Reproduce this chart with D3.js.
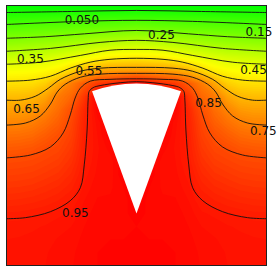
<!DOCTYPE html>
<html>
<head>
<meta charset="utf-8">
<script src="https://cdn.jsdelivr.net/npm/d3@7"></script>
<style>
body { margin: 0; background: #fff; }
svg { display: block; }
text { font-family: "DejaVu Sans", sans-serif; font-size: 12px; fill: #111; }
</style>
</head>
<body>
<script>
// contour levels
var levels = [0.05, 0.15, 0.25, 0.35, 0.45, 0.55, 0.65, 0.75, 0.85, 0.95];

// field sampled on a 21x21 grid over the unit square, row 0 = top edge
var field = [
  [0,0,0,0,0,0,0,0,0,0,0,0,0,0,0,0,0,0,0,0,0],
  [0.100,0.103,0.107,0.110,0.114,0.117,0.121,0.123,0.125,0.126,0.130,0.126,0.125,0.123,0.121,0.117,0.114,0.110,0.107,0.103,0.100],
  [0.200,0.204,0.209,0.214,0.219,0.224,0.230,0.237,0.243,0.251,0.260,0.251,0.243,0.237,0.230,0.224,0.219,0.214,0.209,0.204,0.200],
  [0.296,0.302,0.309,0.316,0.325,0.337,0.351,0.366,0.380,0.388,0.394,0.388,0.380,0.366,0.351,0.337,0.325,0.316,0.309,0.302,0.296],
  [0.396,0.403,0.409,0.418,0.434,0.454,0.478,0.505,0.528,0.534,0.539,0.534,0.528,0.505,0.478,0.454,0.434,0.418,0.409,0.403,0.396],
  [0.485,0.489,0.494,0.506,0.530,0.583,0.644,0.675,0.688,0.695,0.700,0.695,0.688,0.675,0.644,0.583,0.530,0.506,0.494,0.489,0.485],
  [0.561,0.562,0.568,0.596,0.674,0.756,0.825,0.890,0.917,0.960,0.990,0.960,0.917,0.890,0.825,0.756,0.674,0.596,0.568,0.562,0.561],
  [0.629,0.630,0.639,0.679,0.761,0.800,0.895,1,1,1,1,1,1,1,0.895,0.800,0.761,0.679,0.639,0.630,0.629],
  [0.686,0.687,0.698,0.740,0.788,0.845,0.925,0.990,1,1,1,1,1,0.990,0.925,0.845,0.788,0.740,0.698,0.687,0.686],
  [0.738,0.739,0.753,0.781,0.815,0.865,0.935,0.975,1,1,1,1,1,0.975,0.935,0.865,0.815,0.781,0.753,0.739,0.738],
  [0.783,0.786,0.795,0.819,0.845,0.878,0.940,0.970,1,1,1,1,1,0.970,0.940,0.878,0.845,0.819,0.795,0.786,0.783],
  [0.823,0.827,0.835,0.853,0.865,0.892,0.943,0.968,0.985,1,1,1,0.985,0.968,0.943,0.892,0.865,0.853,0.835,0.827,0.823],
  [0.857,0.859,0.863,0.873,0.884,0.907,0.947,0.970,0.975,1,1,1,0.975,0.970,0.947,0.907,0.884,0.873,0.863,0.859,0.857],
  [0.878,0.880,0.884,0.893,0.903,0.922,0.955,0.973,0.975,1,1,1,0.975,0.973,0.955,0.922,0.903,0.893,0.884,0.880,0.878],
  [0.899,0.901,0.905,0.913,0.922,0.937,0.963,0.977,0.978,0.990,1,0.990,0.978,0.977,0.963,0.937,0.922,0.913,0.905,0.901,0.899],
  [0.920,0.922,0.926,0.932,0.940,0.951,0.970,0.981,0.982,0.985,1,0.985,0.982,0.981,0.970,0.951,0.940,0.932,0.926,0.922,0.920],
  [0.942,0.943,0.947,0.951,0.957,0.962,0.976,0.985,0.986,0.985,1,0.985,0.986,0.985,0.976,0.962,0.957,0.951,0.947,0.943,0.942],
  [0.955,0.956,0.958,0.961,0.966,0.970,0.980,0.987,0.989,0.988,0.990,0.988,0.989,0.987,0.980,0.970,0.966,0.961,0.958,0.956,0.955],
  [0.960,0.961,0.963,0.966,0.971,0.975,0.983,0.989,0.990,0.990,0.990,0.990,0.990,0.989,0.983,0.975,0.971,0.966,0.963,0.961,0.960],
  [0.963,0.964,0.966,0.969,0.974,0.978,0.985,0.990,0.991,0.992,0.993,0.992,0.991,0.990,0.985,0.978,0.974,0.969,0.966,0.964,0.963],
  [0.964,0.965,0.967,0.970,0.975,0.979,0.986,0.990,0.992,0.993,0.994,0.993,0.992,0.990,0.986,0.979,0.975,0.970,0.967,0.965,0.964]
];

// traced contour lines, one per level, points as [x, y] in data units
var isolines = [
  [[0,0.973],[0.25,0.977],[0.5,0.981],[0.75,0.977],[1,0.973]],
  [[0,0.927],[0.284,0.939],[0.5,0.943],[0.716,0.939],[1,0.927]],
  [[0,0.874],[0.15,0.880],[0.3,0.891],[0.5,0.904],[0.7,0.891],[0.85,0.880],[1,0.874]],
  [[0,0.824],[0.169,0.835],[0.36,0.858],[0.5,0.866],[0.64,0.858],[0.831,0.835],[1,0.824]],
  [[0,0.774],[0.13,0.782],[0.284,0.808],[0.398,0.828],[0.5,0.831],[0.602,0.828],[0.716,0.808],[0.87,0.782],[1,0.774]],
  [[0,0.709],[0.092,0.713],[0.169,0.728],[0.245,0.759],[0.322,0.782],[0.398,0.793],[0.5,0.797],[0.602,0.793],[0.678,0.782],[0.755,0.759],[0.831,0.728],[0.908,0.713],[1,0.709]],
  [[0,0.636],[0.054,0.636],[0.111,0.651],[0.161,0.682],[0.207,0.716],[0.284,0.747],[0.36,0.759],[0.5,0.762],[0.64,0.759],[0.716,0.747],[0.793,0.716],[0.839,0.682],[0.889,0.651],[0.946,0.636],[1,0.636]],
  [[0,0.540],[0.073,0.548],[0.13,0.575],[0.169,0.621],[0.195,0.667],[0.226,0.697],[0.284,0.724],[0.36,0.736],[0.5,0.739],[0.64,0.736],[0.716,0.724],[0.774,0.697],[0.805,0.667],[0.831,0.621],[0.87,0.575],[0.927,0.548],[1,0.540]],
  [[0,0.414],[0.092,0.425],[0.169,0.456],[0.218,0.510],[0.245,0.579],[0.264,0.644],[0.284,0.682],[0.322,0.709],[0.398,0.716],[0.5,0.718],[0.602,0.716],[0.678,0.709],[0.716,0.682],[0.736,0.644],[0.755,0.579],[0.782,0.510],[0.831,0.456],[0.908,0.425],[1,0.414]],
  [[0,0.180],[0.073,0.184],[0.169,0.207],[0.245,0.249],[0.284,0.299],[0.299,0.387],[0.310,0.521],[0.314,0.636],[0.318,0.670],[0.333,0.684],[0.36,0.692],[0.437,0.703],[0.5,0.707],[0.563,0.703],[0.64,0.692],[0.667,0.684],[0.682,0.670],[0.686,0.636],[0.69,0.521],[0.701,0.387],[0.716,0.299],[0.755,0.249],[0.831,0.207],[0.927,0.184],[1,0.180]]
];

// where each level's label sits, same order as levels
var labelSpots = [[0.290,0.944],[0.971,0.900],[0.596,0.888],[0.092,0.796],[0.950,0.754],
                  [0.317,0.750],[0.077,0.604],[0.988,0.519],[0.777,0.627],[0.265,0.203]];

// the hole: circular sector, apex, radius, half opening angle (deg)
var holeApex = [0.5, 0.2], holeRadius = 0.5, holeHalfAngle = 20;

var width = 280, height = 272;

var x = d3.scaleLinear().domain([0, 1]).range([6.5, 266.5]);
var y = d3.scaleLinear().domain([0, 1]).range([265.5, 5.5]);
var color = d3.scaleLinear().domain([0, 0.5, 1]).range(["#00ff00", "#ffff00", "#ff0000"]);

var svg = d3.select("body").append("svg")
    .attr("width", width)
    .attr("height", height);

svg.append("clipPath").attr("id", "plotclip")
    .append("rect")
    .attr("x", x(0)).attr("y", y(1))
    .attr("width", x(1) - x(0)).attr("height", y(0) - y(1));

var plot = svg.append("g").attr("clip-path", "url(#plotclip)");

// shaded field
var nx = field[0].length, ny = field.length;
var gx = d3.scaleLinear().domain([0.5, nx - 0.5]).range([x(0), x(1)]);
var gy = d3.scaleLinear().domain([0.5, ny - 0.5]).range([y(1), y(0)]);
var gridPath = d3.geoPath(d3.geoTransform({
    point: function(px, py) { this.stream.point(gx(px), gy(py)); }
}));
var steps = d3.range(0, 1, 0.01);
var bands = d3.contours().size([nx, ny]).thresholds(steps)(field.flat());

plot.selectAll("path.band")
    .data(bands)
    .enter().append("path")
    .attr("class", "band")
    .attr("d", gridPath)
    .attr("fill", function(d) { return color(d.value + 0.005); });

// white hole
plot.append("path")
    .attr("transform", "translate(" + x(holeApex[0]) + "," + y(holeApex[1]) + ")")
    .attr("d", d3.arc()({
        innerRadius: 0,
        outerRadius: x(holeRadius) - x(0),
        startAngle: -holeHalfAngle * Math.PI / 180,
        endAngle: holeHalfAngle * Math.PI / 180
    }))
    .attr("fill", "#fff");

// contour lines
var line = d3.line()
    .x(function(d) { return x(d[0]); })
    .y(function(d) { return y(d[1]); })
    .curve(d3.curveCatmullRom.alpha(0.5));

plot.selectAll("path.iso")
    .data(isolines)
    .enter().append("path")
    .attr("class", "iso")
    .attr("d", line)
    .attr("fill", "none")
    .attr("stroke", "#111")
    .attr("stroke-width", 0.9);

// frame
svg.append("rect")
    .attr("x", x(0)).attr("y", y(1))
    .attr("width", x(1) - x(0)).attr("height", y(0) - y(1))
    .attr("fill", "none")
    .attr("stroke", "#222")
    .attr("stroke-width", 1);

// labels
var fmt = d3.format(".2g");
svg.selectAll("text.lab")
    .data(levels)
    .enter().append("text")
    .attr("class", "lab")
    .attr("x", function(d, i) { return x(labelSpots[i][0]); })
    .attr("y", function(d, i) { return y(labelSpots[i][1]); })
    .attr("dy", "0.36em")
    .attr("text-anchor", "middle")
    .text(function(d) { return fmt(d); });
</script>
</body>
</html>
